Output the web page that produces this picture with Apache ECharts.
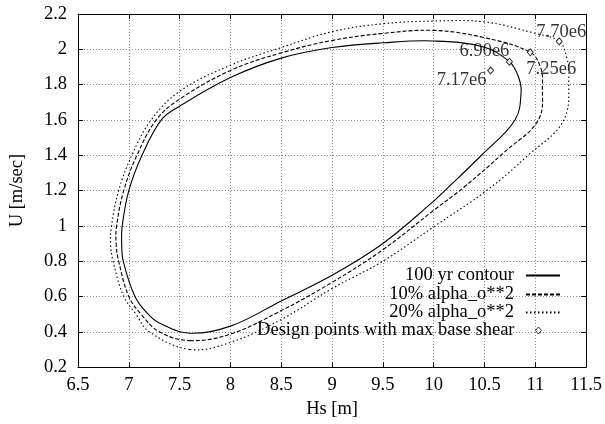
<!DOCTYPE html>
<html><head><meta charset="utf-8">
<script src="https://cdn.jsdelivr.net/npm/echarts@6/dist/echarts.min.js"></script>
<style>html,body{margin:0;padding:0;background:#fff}#c{width:605px;height:424px}</style>
</head><body><div id="c"></div>
<script>
// ---- data (closed contours, listed once around) ----
const seriesNames = ['100 yr contour', '10% alpha_o**2', '20% alpha_o**2', 'Design points with max base shear'];

const hs100 = [7.60, 8.00, 8.50, 9.00, 9.50, 10.00, 10.11, 10.47, 10.80, 10.86, 10.83, 10.745, 10.50, 10.00, 9.50, 9.00, 8.50, 8.00, 7.50, 7.32, 7.13, 7.00, 6.935, 6.93, 6.945, 7.06, 7.19, 7.30];
const u100  = [0.392, 0.432, 0.575, 0.72, 0.90, 1.14, 1.20, 1.40, 1.60, 1.76, 1.85, 1.93, 2.012, 2.047, 2.037, 2.01, 1.95, 1.84, 1.678, 1.60, 1.40, 1.20, 1.00, 0.90, 0.80, 0.60, 0.50, 0.45];

const hs10 = [7.60, 8.00, 8.50, 9.00, 9.50, 10.00, 10.30, 10.70, 11.03, 11.07, 11.05, 10.95, 10.50, 10.00, 9.50, 9.00, 8.50, 8.00, 7.50, 7.27, 7.08, 6.95, 6.88, 6.875, 6.90, 7.00, 7.12, 7.30];
const u10  = [0.350, 0.387, 0.52, 0.68, 0.865, 1.088, 1.22, 1.42, 1.60, 1.80, 1.90, 1.983, 2.066, 2.107, 2.09, 2.05, 1.98, 1.88, 1.718, 1.60, 1.40, 1.20, 1.00, 0.90, 0.80, 0.60, 0.50, 0.40];

const hs20 = [7.60, 8.00, 8.50, 9.00, 9.50, 10.00, 10.52, 10.93, 11.28, 11.33, 11.31, 11.235, 11.00, 10.50, 10.00, 9.50, 9.00, 8.50, 8.00, 7.50, 7.22, 7.03, 6.90, 6.83, 6.82, 6.845, 6.95, 7.07, 7.20];
const u20  = [0.300, 0.340, 0.47, 0.645, 0.80, 0.995, 1.20, 1.40, 1.60, 1.85, 1.95, 2.045, 2.09, 2.155, 2.16, 2.145, 2.10, 2.01, 1.91, 1.762, 1.60, 1.40, 1.20, 1.00, 0.90, 0.80, 0.60, 0.50, 0.40];

const designHs = [10.745, 10.56, 10.95, 11.235];
const designU  = [1.93, 1.88, 1.983, 2.045];
const designText = ['6.90e6', '7.17e6', '7.25e6', '7.70e6'];

const xTicks = { min: 6.5, max: 11.5, step: 0.5 };
const yTicks = { min: 0.2, max: 2.2, step: 0.2 };

// ---- styling ----
const FONT = 'Liberation Serif';
const FS = 18.5;
const labelOffsets = [[-25, -11], [-29, 10], [21, 17], [2, -9]];
const legendTops = [266, 285, 303, 321];
const dashes = [null, [4, 2], [1.5, 2.5]];

const zip = (a, b) => a.map((v, i) => [v, b[i]]);

const chart = echarts.init(document.getElementById('c'), null, { renderer: 'canvas' });

const txt = { fontFamily: FONT, fontSize: FS, color: '#000' };

const baseX = {
  type: 'value', min: xTicks.min, max: xTicks.max, interval: xTicks.step,
  axisLine: { show: true, onZero: false, lineStyle: { color: '#000', width: 1 } },
  axisTick: { show: true, inside: true, length: 5, lineStyle: { color: '#000' } },
};
const baseY = {
  type: 'value', min: yTicks.min, max: yTicks.max, interval: yTicks.step,
  axisLine: { show: true, onZero: false, lineStyle: { color: '#000', width: 1 } },
  axisTick: { show: true, inside: true, length: 5, lineStyle: { color: '#000' } },
};
const gridLine = { show: true, lineStyle: { color: '#8a8a8a', type: [1, 2], width: 1 } };

const curves = [zip(hs100, u100), zip(hs10, u10), zip(hs20, u20)];

// closed smooth contour drawn through the library's coordinate system
function contourRenderer(dash) {
  return function (params, api) {
    if (params.dataIndexInside !== 0) return null;
    const n = params.dataInsideLength;
    const pts = [];
    for (let k = 0; k < n; k++) pts.push(api.coord([api.value(0, k), api.value(1, k)]));
    return {
      type: 'polygon', silent: true,
      shape: { points: pts, smooth: 0.38 },
      style: { fill: 'none', stroke: '#000', lineWidth: 1.1, lineDash: dash || null }
    };
  };
}

const series = [];
// legend-only entries carrying the line styles
curves.forEach((d, i) => series.push({
  name: seriesNames[i], type: 'line', data: [], symbol: 'none',
  lineStyle: { color: '#000', width: 1.1, type: dashes[i] || 'solid' }, itemStyle: { color: '#000' }
}));
curves.forEach((d, i) => series.push({
  name: 'contour' + i, type: 'custom', data: d, renderItem: contourRenderer(dashes[i]),
  encode: { x: 0, y: 1 }, z: 3
}));

series.push({
  name: seriesNames[3], type: 'scatter', symbol: 'diamond', symbolSize: [6, 7],
  itemStyle: { color: '#fff', borderColor: '#000', borderWidth: 1 },
  data: designHs.map((x, i) => ({
    value: [x, designU[i]],
    label: { show: true, position: 'inside', offset: labelOffsets[i], formatter: designText[i],
             fontFamily: FONT, fontSize: FS, color: '#000' }
  })),
  z: 4
});

const legends = seriesNames.map((n, i) => {
  const isPt = i === 3;
  return {
    data: isPt ? [{ name: n, icon: 'diamond' }] : [n],
    right: isPt ? 63 : 44, top: legendTops[i], align: 'right', orient: 'vertical',
    itemWidth: isPt ? 6 : 34, itemHeight: isPt ? 7 : 10, padding: 0,
    textStyle: { fontFamily: FONT, fontSize: FS, color: '#000', padding: [0, isPt ? 16 : 7, 0, 0] },
    selectedMode: false,
    itemStyle: isPt ? { color: '#fff', borderColor: '#000', borderWidth: 1 }
                    : { color: 'rgba(0,0,0,0)', borderWidth: 0, opacity: 0 }
  };
});

chart.setOption({
  animation: false,
  backgroundColor: '#fff',
  grid: { left: 78, right: 18, top: 14, bottom: 52 },
  legend: legends,
  xAxis: [
    Object.assign({}, baseX, {
      position: 'bottom', splitLine: gridLine,
      axisLabel: Object.assign({ margin: 9 }, txt),
      name: 'Hs [m]', nameLocation: 'middle', nameGap: 27, nameTextStyle: txt
    }),
    Object.assign({}, baseX, { position: 'top', axisLabel: { show: false }, splitLine: { show: false } })
  ],
  yAxis: [
    Object.assign({}, baseY, {
      position: 'left', splitLine: gridLine,
      axisLabel: Object.assign({ margin: 11, formatter: v => String(parseFloat(v.toFixed(1))) }, txt),
      name: 'U [m/sec]', nameLocation: 'middle', nameGap: 51, nameRotate: 90, nameTextStyle: txt
    }),
    Object.assign({}, baseY, { position: 'right', axisLabel: { show: false }, splitLine: { show: false } })
  ],
  series: series
});
</script>
</body></html>
